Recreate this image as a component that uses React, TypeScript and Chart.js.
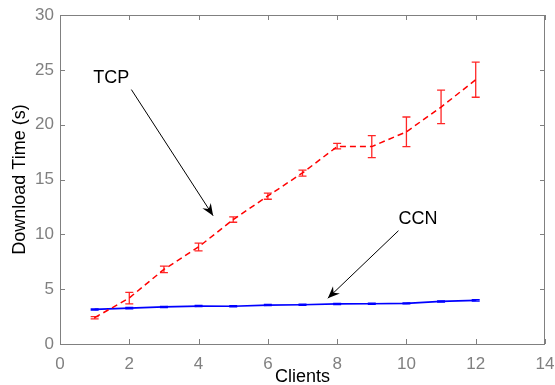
import React, { useEffect, useRef } from "react";
import { Chart, registerables } from "chart.js";

Chart.register(...registerables);

// ---- data ----
const clients = [1, 2, 3, 4, 5, 6, 7, 8, 9, 10, 11, 12];
const tcpMean = [2.4, 4.2, 6.8, 8.85, 11.35, 13.5, 15.6, 18.0, 18.0, 19.35, 21.6, 24.1];
const tcpLow = [2.3, 3.65, 6.5, 8.5, 11.1, 13.2, 15.3, 17.8, 17.0, 18.0, 20.1, 22.5];
const tcpHigh = [2.5, 4.7, 7.1, 9.2, 11.6, 13.75, 15.85, 18.3, 19.0, 20.7, 23.15, 25.7];
const ccnMean = [3.15, 3.27, 3.38, 3.46, 3.44, 3.55, 3.58, 3.65, 3.67, 3.7, 3.88, 3.98];
const ccnLow = [3.1, 3.2, 3.33, 3.41, 3.39, 3.5, 3.53, 3.6, 3.62, 3.65, 3.82, 3.91];
const ccnHigh = [3.2, 3.34, 3.43, 3.51, 3.49, 3.6, 3.63, 3.7, 3.72, 3.75, 3.94, 4.05];

const xTicks = [0, 2, 4, 6, 8, 10, 12, 14];
const yTicks = [0, 5, 10, 15, 20, 25, 30];

const xTitle = "Clients";
const yTitle = "Download Time (s)";

const annotations = [
  { text: "TCP", tx: 0.96, ty: 24.25, from: [2.06, 23.2], to: [4.42, 11.7] },
  { text: "CCN", tx: 9.77, ty: 11.4, from: [9.77, 10.33], to: [7.73, 4.17] },
];

const FONT = "'Liberation Sans', Arial, Helvetica, sans-serif";
const GRAY = "#808080";

const extrasPlugin = {
  id: "extras",
  afterDatasetsDraw(chart: any) {
    const ctx = chart.ctx;
    const xs = chart.scales.x;
    const ys = chart.scales.y;
    const area = chart.chartArea;
    ctx.save();

    // error bars
    const drawBars = (low: number[], high: number[], color: string, width: number) => {
      ctx.strokeStyle = color;
      ctx.lineWidth = width;
      for (let i = 0; i < clients.length; i++) {
        const px = xs.getPixelForValue(clients[i]);
        const y1 = ys.getPixelForValue(low[i]);
        const y2 = ys.getPixelForValue(high[i]);
        ctx.beginPath();
        ctx.moveTo(px, y1);
        ctx.lineTo(px, y2);
        ctx.moveTo(px - 4, y1);
        ctx.lineTo(px + 4, y1);
        ctx.moveTo(px - 4, y2);
        ctx.lineTo(px + 4, y2);
        ctx.stroke();
      }
    };
    drawBars(tcpLow, tcpHigh, "rgba(255,0,0,0.85)", 1.3);
    drawBars(ccnLow, ccnHigh, "#0000ff", 1.3);

    // box
    ctx.strokeStyle = GRAY;
    ctx.lineWidth = 1;
    ctx.strokeRect(Math.round(area.left) + 0.5, Math.round(area.top) + 0.5,
      Math.round(area.right - area.left) - 1, Math.round(area.bottom - area.top));
    // inward ticks on all sides
    ctx.beginPath();
    xTicks.forEach((v) => {
      const px = Math.round(xs.getPixelForValue(v)) + 0.5;
      ctx.moveTo(px, area.bottom);
      ctx.lineTo(px, area.bottom - 5);
      ctx.moveTo(px, area.top);
      ctx.lineTo(px, area.top + 5);
    });
    yTicks.forEach((v) => {
      const py = Math.round(ys.getPixelForValue(v)) + 0.5;
      ctx.moveTo(area.left, py);
      ctx.lineTo(area.left + 5, py);
      ctx.moveTo(area.right, py);
      ctx.lineTo(area.right - 5, py);
    });
    ctx.stroke();

    // annotations
    ctx.fillStyle = "#000";
    ctx.strokeStyle = "#000";
    ctx.font = `18px ${FONT}`;
    ctx.textAlign = "left";
    ctx.textBaseline = "middle";
    annotations.forEach((a) => {
      ctx.fillText(a.text, xs.getPixelForValue(a.tx), ys.getPixelForValue(a.ty));
      const x1 = xs.getPixelForValue(a.from[0]);
      const y1 = ys.getPixelForValue(a.from[1]);
      const x2 = xs.getPixelForValue(a.to[0]);
      const y2 = ys.getPixelForValue(a.to[1]);
      ctx.lineWidth = 1;
      ctx.beginPath();
      ctx.moveTo(x1, y1);
      ctx.lineTo(x2, y2);
      ctx.stroke();
      const ang = Math.atan2(y2 - y1, x2 - x1);
      const L = 12;
      const W = 5;
      const bx = x2 - L * Math.cos(ang);
      const by = y2 - L * Math.sin(ang);
      const nx = x2 - 8 * Math.cos(ang);
      const ny = y2 - 8 * Math.sin(ang);
      ctx.beginPath();
      ctx.moveTo(x2, y2);
      ctx.lineTo(bx + W * Math.sin(ang), by - W * Math.cos(ang));
      ctx.lineTo(nx, ny);
      ctx.lineTo(bx - W * Math.sin(ang), by + W * Math.cos(ang));
      ctx.closePath();
      ctx.fill();
    });
    ctx.restore();
  },
};

export default function App() {
  const ref = useRef<HTMLCanvasElement | null>(null);
  useEffect(() => {
    document.body.style.margin = "0";
    const canvas = ref.current;
    if (!canvas) return;
    const chart = new Chart(canvas, {
      type: "line",
      data: {
        datasets: [
          {
            label: "TCP",
            data: clients.map((c, i) => ({ x: c, y: tcpMean[i] })),
            borderColor: "#ff0000",
            borderWidth: 1.5,
            borderDash: [6, 4],
            pointRadius: 0,
            fill: false,
            tension: 0,
          },
          {
            label: "CCN",
            data: clients.map((c, i) => ({ x: c, y: ccnMean[i] })),
            borderColor: "#0000ff",
            borderWidth: 1.7,
            pointRadius: 0,
            fill: false,
            tension: 0,
          },
        ],
      },
      options: {
        animation: false,
        responsive: true,
        maintainAspectRatio: false,
        layout: { padding: { top: 15, right: 10, left: 0, bottom: 0 } },
        plugins: { legend: { display: false }, tooltip: { enabled: false } },
        scales: {
          x: {
            type: "linear",
            min: 0,
            max: 14,
            afterBuildTicks: (s: any) => {
              s.ticks = xTicks.map((v) => ({ value: v }));
            },
            afterFit: (s: any) => {
              s.height = 41;
              s.paddingLeft = 0;
              s.paddingRight = 0;
            },
            grid: { display: false, drawTicks: false },
            border: { display: false },
            ticks: {
              color: GRAY,
              font: { size: 17, family: FONT },
              padding: 10,
              maxRotation: 0,
              autoSkip: false,
            },
            title: {
              display: true,
              text: xTitle,
              color: "#000",
              font: { size: 18, family: FONT, lineHeight: 1 },
              padding: { top: 0, bottom: -1 },
            },
          },
          y: {
            type: "linear",
            min: 0,
            max: 30,
            afterBuildTicks: (s: any) => {
              s.ticks = yTicks.map((v) => ({ value: v }));
            },
            afterFit: (s: any) => {
              s.width = 60;
              s.paddingTop = 0;
              s.paddingBottom = 0;
            },
            grid: { display: false, drawTicks: false },
            border: { display: false },
            ticks: {
              color: GRAY,
              font: { size: 17, family: FONT },
              padding: 6,
              autoSkip: false,
            },
            title: {
              display: true,
              text: yTitle,
              color: "#000",
              font: { size: 18, family: FONT, lineHeight: 1 },
              padding: { top: 11, bottom: 0 },
            },
          },
        },
      },
      plugins: [extrasPlugin],
    } as any);
    return () => chart.destroy();
  }, []);
  return (
    <div style={{ position: "fixed", left: 0, top: 0, width: 555, height: 385, background: "#fff" }}>
      <canvas ref={ref} />
    </div>
  );
}
